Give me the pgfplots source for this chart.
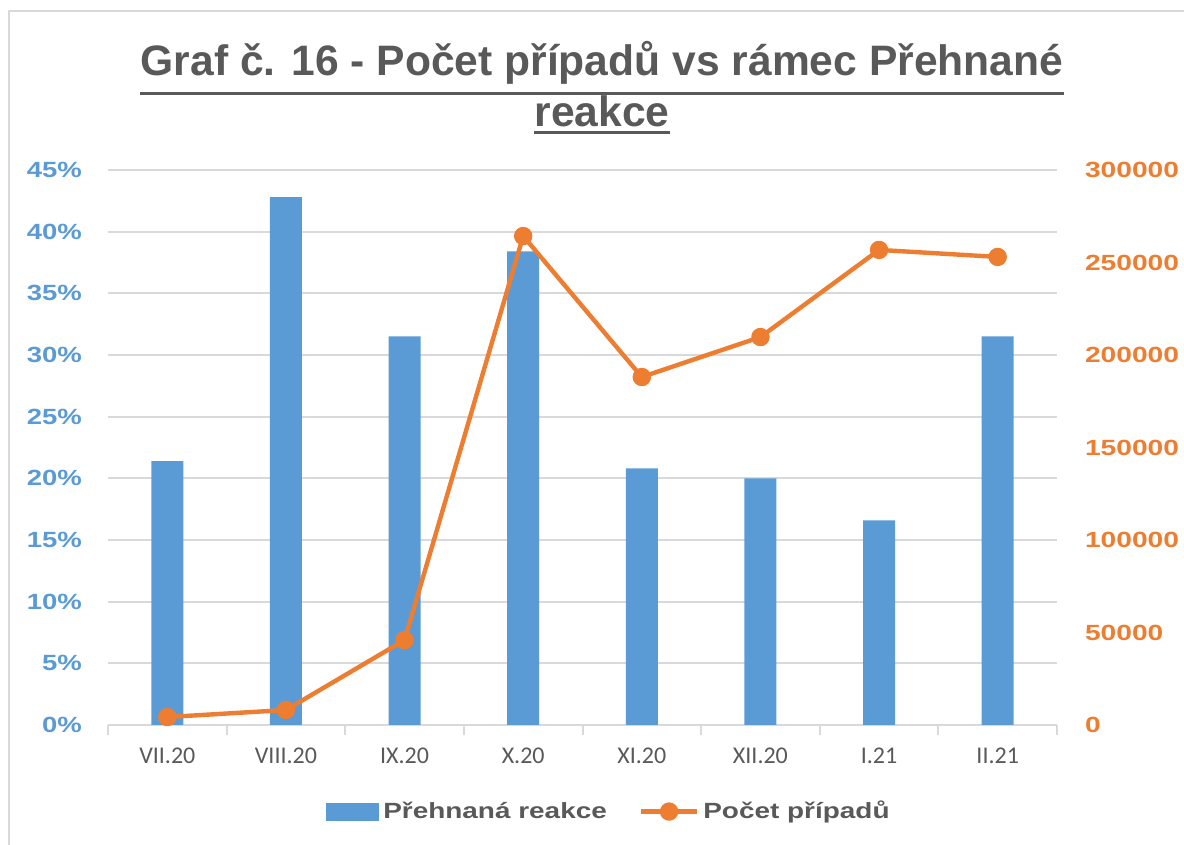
\documentclass[border=0pt]{standalone}
\usepackage{pgfplots}
\pgfplotsset{compat=1.18}
\usepackage{graphicx}
\usepackage{fontspec}
\setmainfont{Liberation Sans}
\newfontfamily\calib{Carlito}
\definecolor{cblue}{HTML}{5B9BD5}
\definecolor{corange}{HTML}{ED7D31}
\definecolor{tgray}{HTML}{595959}
\definecolor{ggray}{HTML}{D9D9D9}
\newcommand{\ltk}[1]{\scalebox{1.25}[1]{#1}}
\newcommand{\rtk}[1]{\scalebox{1.28}[1]{#1}}
\newcommand{\lgk}[1]{\scalebox{1.27}[1]{#1}}
\begin{document}
\begin{tikzpicture}[x=1pt,y=1pt]
\useasboundingbox (0,0) rectangle (592,422.5);
\draw[ggray, line width=1.2pt] (4.5,0) -- (4.5,417) -- (592,417);
\node[font=\bfseries\fontsize{21.3}{22}\selectfont, text=tgray, inner sep=0pt, anchor=base] (t1) at (301,384.5) {Graf č. 16 - Počet případů vs rámec Přehnané};
\draw[tgray, line width=1.5pt] ([yshift=-9pt]t1.base west) -- ([yshift=-9pt]t1.base east);
\node[font=\bfseries\fontsize{21.3}{22}\selectfont, text=tgray, inner sep=0pt, anchor=base] (t2) at (301,359) {reakce};
\draw[tgray, line width=1.5pt] ([yshift=-3pt]t2.base west) -- ([yshift=-3pt]t2.base east);

\begin{axis}[
  at={(54pt,60pt)}, anchor=south west,
  scale only axis, width=474.5pt, height=277.5pt,
  xmin=-0.5, xmax=7.5, ymin=0, ymax=0.45,
  axis x line*=bottom, axis y line*=left,
  y axis line style={draw=none},
  x axis line style={ggray, line width=1pt, -},
  xtick={0,1,2,3,4,5,6,7},
  xticklabels={VII.20,VIII.20,IX.20,X.20,XI.20,XII.20,I.21,II.21},
  minor xtick={-0.5,0.5,1.5,2.5,3.5,4.5,5.5,6.5,7.5},
  major tick length=0pt, minor tick length=5pt, tick align=outside,
  minor tick style={ggray, line width=1pt},
  ytick={0,0.05,0.1,0.15,0.2,0.25,0.3,0.35,0.4,0.45},
  yticklabels={\ltk{0\%},\ltk{5\%},\ltk{10\%},\ltk{15\%},\ltk{20\%},\ltk{25\%},\ltk{30\%},\ltk{35\%},\ltk{40\%},\ltk{45\%}},
  ymajorgrids, grid style={ggray, line width=1pt},
  yticklabel style={font=\bfseries\fontsize{11}{11}\selectfont, text=cblue, xshift=-9.5pt},
  xticklabel style={font=\calib\fontsize{12}{12}\selectfont, text=tgray, yshift=-8pt},
]
\addplot[ybar, bar width=16pt, fill=cblue, draw=none] coordinates {(0,0.214) (1,0.428) (2,0.315) (3,0.384) (4,0.208) (5,0.200) (6,0.166) (7,0.315)};
\end{axis}

\begin{axis}[
  at={(54pt,60pt)}, anchor=south west,
  scale only axis, width=474.5pt, height=277.5pt,
  xmin=-0.5, xmax=7.5, ymin=0, ymax=300000,
  axis x line=none, axis y line*=right,
  y axis line style={draw=none},
  major tick length=0pt, scaled y ticks=false,
  ytick={0,50000,100000,150000,200000,250000,300000},
  yticklabels={\rtk{0},\rtk{50000},\rtk{100000},\rtk{150000},\rtk{200000},\rtk{250000},\rtk{300000}},
  yticklabel style={font=\bfseries\fontsize{11}{11}\selectfont, text=corange, xshift=10.5pt},
  legend style={at={(0.529,-0.156)}, anchor=center, draw=none, fill=none, legend columns=2,
    font=\bfseries\fontsize{11}{11}\selectfont, text=tgray,
    /tikz/every even column/.append style={column sep=14pt}},
]
\addlegendimage{legend image code/.code={\fill[cblue] (0pt,-4.2pt) rectangle (26pt,4.3pt);}}
\addlegendentry{\lgk{Přehnaná reakce}}
\addplot[corange, line width=2.2pt, line join=round, mark=*, mark size=3.5pt, mark options={fill=corange, draw=corange},
  legend image code/.code={\draw[corange,line width=2.2pt] (0pt,0pt)--(28pt,0pt); \fill[corange] (14pt,0pt) circle (3.5pt);}]
  coordinates {(0,4300) (1,8100) (2,45900) (3,264300) (4,188100) (5,209700) (6,256800) (7,253000)};
\addlegendentry{\lgk{Počet případů}}
\end{axis}
\end{tikzpicture}
\end{document}
